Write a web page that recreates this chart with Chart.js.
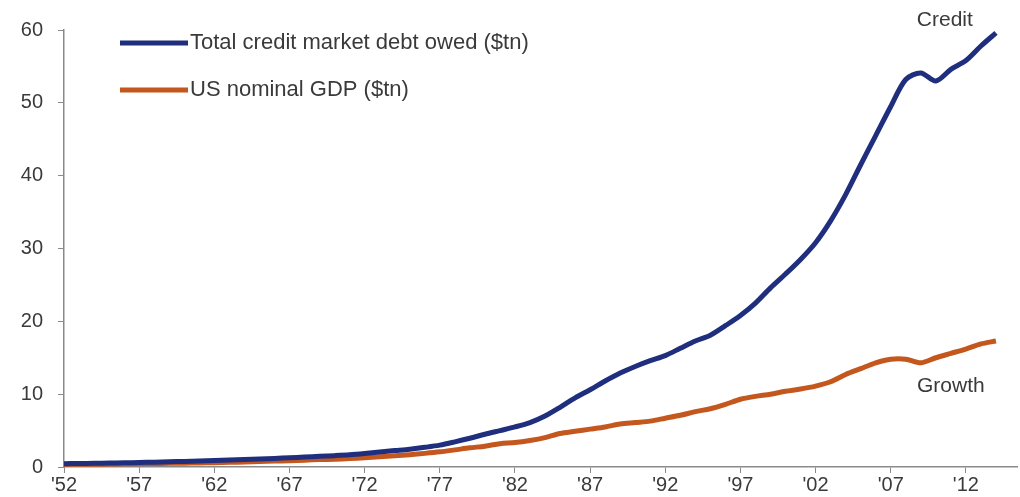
<!DOCTYPE html>
<html lang="en">
<head>
<meta charset="UTF-8">
<title>Credit vs GDP</title>
<script src="https://cdn.jsdelivr.net/npm/chart.js"></script>
<style>
  body { margin: 0; padding: 0; background: #ffffff; }
  #wrap { width: 1020px; height: 497px; }
</style>
</head>
<body>
<div id="wrap"><canvas id="debtChart"></canvas></div>
<script>
// years of the observations
const years = [
  1952, 1953, 1954, 1955, 1956, 1957, 1958, 1959, 1960, 1961,
  1962, 1963, 1964, 1965, 1966, 1967, 1968, 1969, 1970, 1971,
  1972, 1973, 1974, 1975, 1976, 1977, 1978, 1979, 1980, 1981,
  1982, 1983, 1984, 1985, 1986, 1987, 1988, 1989, 1990, 1991,
  1992, 1993, 1994, 1995, 1996, 1997, 1998, 1999, 2000, 2001,
  2002, 2003, 2004, 2005, 2006, 2007, 2008, 2009, 2010, 2011,
  2012, 2013, 2014
];

// Total credit market debt owed ($tn)
const creditValues = [
  0.45, 0.48, 0.50, 0.55, 0.58, 0.62, 0.66, 0.72, 0.77, 0.82,
  0.88, 0.95, 1.02, 1.10, 1.18, 1.26, 1.36, 1.46, 1.56, 1.68,
  1.85, 2.05, 2.25, 2.45, 2.70, 3.00, 3.45, 3.95, 4.50, 5.00,
  5.50, 6.10, 7.00, 8.20, 9.50, 10.6, 11.8, 12.9, 13.8, 14.6,
  15.3, 16.3, 17.3, 18.1, 19.4, 20.8, 22.5, 24.6, 26.5, 28.5,
  30.8, 33.8, 37.4, 41.5, 45.5, 49.5, 53.2, 54.1, 53.0, 54.6,
  55.8, 57.8, 59.6
];

// US nominal GDP ($tn)
const gdpValues = [
  0.36, 0.38, 0.38, 0.41, 0.44, 0.46, 0.47, 0.51, 0.53, 0.56,
  0.60, 0.64, 0.68, 0.74, 0.81, 0.86, 0.94, 1.02, 1.07, 1.16,
  1.28, 1.42, 1.55, 1.69, 1.87, 2.08, 2.35, 2.63, 2.86, 3.20,
  3.35, 3.64, 4.04, 4.60, 4.90, 5.20, 5.50, 5.90, 6.10, 6.30,
  6.70, 7.10, 7.60, 8.00, 8.60, 9.30, 9.70, 10.0, 10.4, 10.7,
  11.1, 11.7, 12.7, 13.5, 14.3, 14.8, 14.8, 14.3, 15.0, 15.6,
  16.2, 16.9, 17.3
];

const tickYears = [1952, 1957, 1962, 1967, 1972, 1977, 1982, 1987, 1992, 1997, 2002, 2007, 2012];
const tickLabels = ["'52", "'57", "'62", "'67", "'72", "'77", "'82", "'87", "'92", "'97", "'02", "'07", "'12"];

const creditColor = "#1f2f7e";
const gdpColor = "#c4571d";
const textColor = "#3a3a3a";
const axisColor = "#8a8a8a";
const fontFamily = "'Liberation Sans', Arial, sans-serif";

// legend drawn as two stacked rows inside the plot, like the original
const sideLegend = {
  id: "sideLegend",
  afterDraw(chart) {
    const ctx = chart.ctx;
    const area = chart.chartArea;
    ctx.save();
    ctx.font = "22px " + fontFamily;
    ctx.textBaseline = "middle";
    chart.data.datasets.forEach((ds, i) => {
      const y = area.top + 13 + i * 47;
      ctx.strokeStyle = ds.borderColor;
      ctx.lineWidth = 5;
      ctx.beginPath();
      ctx.moveTo(area.left + 56, y);
      ctx.lineTo(area.left + 124, y);
      ctx.stroke();
      ctx.fillStyle = textColor;
      ctx.fillText(ds.label, area.left + 126, y);
    });

    // series tags
    const x = chart.scales.x, yS = chart.scales.y;
    ctx.font = "21px " + fontFamily;
    ctx.textAlign = "center";
    ctx.fillText("Credit", x.getPixelForValue(2010.6), yS.getPixelForValue(61.3));
    ctx.fillText("Growth", x.getPixelForValue(2011.0), yS.getPixelForValue(11.1));
    ctx.restore();
  }
};

new Chart(document.getElementById("debtChart"), {
  type: "line",
  data: {
    labels: years,
    datasets: [
      {
        label: "Total credit market debt owed ($tn)",
        data: years.map((yr, i) => ({ x: yr, y: creditValues[i] })),
        borderColor: creditColor,
        borderWidth: 5,
        pointRadius: 0,
        tension: 0.3
      },
      {
        label: "US nominal GDP ($tn)",
        data: years.map((yr, i) => ({ x: yr, y: gdpValues[i] })),
        borderColor: gdpColor,
        borderWidth: 5,
        pointRadius: 0,
        tension: 0.3
      }
    ]
  },
  options: {
    responsive: true,
    maintainAspectRatio: false,
    animation: false,
    layout: { padding: { top: 30, right: 3, left: 0, bottom: 0 } },
    plugins: {
      legend: { display: false },
      tooltip: { enabled: false }
    },
    scales: {
      x: {
        type: "linear",
        min: 1952,
        max: 2015.4,
        afterBuildTicks: (scale) => {
          scale.ticks = tickYears.map(v => ({ value: v }));
        },
        ticks: {
          autoSkip: false,
          maxRotation: 0,
          padding: 0,
          color: textColor,
          font: { size: 20, family: fontFamily },
          callback: (value) => tickLabels[tickYears.indexOf(value)]
        },
        grid: { drawOnChartArea: false, drawTicks: true, tickLength: 6, color: axisColor },
        border: { color: axisColor, width: 1.5 }
      },
      y: {
        min: 0,
        max: 60,
        afterFit: (scale) => { scale.width = 64; },
        ticks: {
          stepSize: 10,
          padding: 15,
          color: textColor,
          font: { size: 20, family: fontFamily }
        },
        grid: { drawOnChartArea: false, drawTicks: true, tickLength: 6, color: axisColor },
        border: { color: axisColor, width: 1.5 }
      }
    }
  },
  plugins: [sideLegend]
});
</script>
</body>
</html>
